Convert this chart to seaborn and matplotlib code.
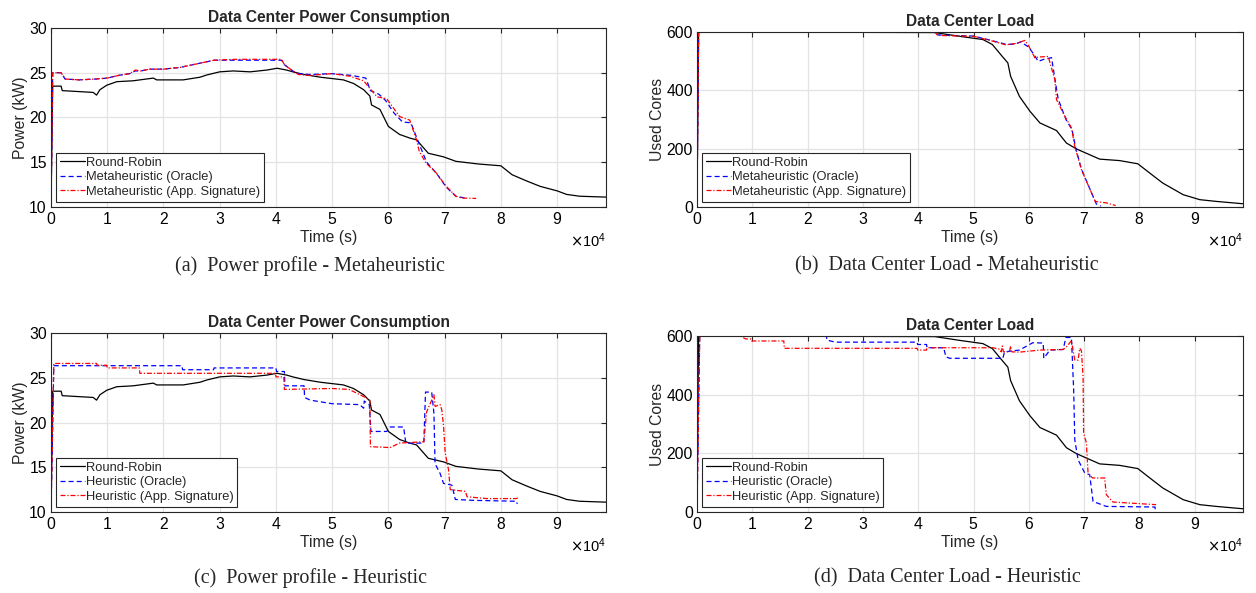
import numpy as np
import pandas as pd
import matplotlib.pyplot as plt
import seaborn as sns

# ---------------- data (time in s) ----------------

# round-robin baseline, power (kW)
rr_pow_t = [0, 300, 1800, 2000, 7500, 8100, 8700, 9900, 11700, 14600, 18200, 18800,
            23500, 26500, 27700, 30000, 32400, 35400, 38400, 40200, 41900, 43000,
            45000, 47900, 52000, 53800, 55600, 56700, 57000, 58500, 60000, 62000,
            63800, 65000, 67100, 69800, 72000, 76000, 80000, 82000, 84600, 87000,
            90000, 91700, 94000, 98700]
rr_pow = [10, 23.5, 23.5, 23.0, 22.8, 22.5, 23.1, 23.6, 24.0, 24.1, 24.4, 24.2,
          24.2, 24.5, 24.75, 25.1, 25.2, 25.1, 25.3, 25.5, 25.3, 25.1,
          24.8, 24.5, 24.2, 23.8, 23.1, 22.4, 21.4, 20.9, 19.0, 18.1,
          17.7, 17.5, 16.0, 15.6, 15.1, 14.8, 14.6, 13.6, 12.9, 12.3,
          11.8, 11.4, 11.2, 11.1]

# round-robin baseline, used cores
rr_load_t = [0, 300, 43000, 47500, 51700, 53400, 55200, 56200, 56700, 58300, 60200,
             62000, 65000, 66800, 68600, 71000, 72800, 76400, 79700, 81800, 84200,
             87900, 90900, 93900, 98700]
rr_load = [0, 600, 598, 585, 574, 557, 516, 494, 448, 379, 328,
           288, 262, 219, 199, 179, 164, 159, 148, 117, 82,
           42, 25, 19, 11]

# metaheuristic, power
meta_or_pow_t = [0, 300, 1800, 2500, 5000, 8000, 10000, 12000, 14000, 15000, 16000,
                 17500, 20000, 23000, 26000, 29000, 33000, 41000, 41500, 43000, 44000,
                 46000, 50000, 53500, 56000, 56800, 58300, 59500, 61000, 62500, 64000,
                 65500, 66800, 68500, 70300, 72000, 74000]
meta_or_pow = [10, 25.0, 25.0, 24.3, 24.2, 24.3, 24.4, 24.7, 24.9, 25.2, 25.2,
               25.4, 25.4, 25.6, 26.0, 26.4, 26.4, 26.4, 25.9, 25.2, 24.9,
               24.8, 24.9, 24.7, 24.4, 23.0, 22.6, 21.9, 20.5, 19.5, 19.4,
               17.0, 15.0, 13.8, 12.2, 11.2, 10.95]
meta_app_pow_t = [0, 300, 1800, 2500, 5000, 8000, 10000, 12000, 14000, 15000, 16000,
                  17500, 20000, 23000, 26000, 29000, 33000, 41000, 41500, 43000, 44000,
                  46000, 50000, 53200, 55600, 56500, 58000, 59700, 60500, 62000, 63800,
                  65000, 65500, 66700, 68500, 70300, 72000, 73000, 75600]
meta_app_pow = [10, 25.0, 25.0, 24.3, 24.2, 24.3, 24.4, 24.7, 24.9, 25.3, 25.2,
                25.4, 25.4, 25.6, 26.0, 26.4, 26.5, 26.5, 25.9, 25.2, 24.8,
                24.7, 24.9, 24.6, 24.1, 23.4, 22.3, 22.1, 21.4, 20.1, 19.7,
                17.5, 16.2, 14.9, 13.8, 12.3, 11.2, 11.0, 10.95]

# metaheuristic, used cores
meta_or_load_t = [0, 300, 43000, 43500, 46000, 50000, 53000, 55800, 57500, 58500,
                  60000, 61000, 61700, 62500, 64100, 64700, 65300, 66700, 67800,
                  68500, 69500, 72200, 73000]
meta_or_load = [0, 600, 600, 590, 588, 586, 572, 558, 558, 566,
                548, 520, 499, 505, 512, 440, 370, 300, 265,
                200, 130, 10, 3]
meta_app_load_t = [0, 300, 43000, 43500, 46000, 50000, 53000, 55800, 57500, 58200,
                   59300, 60000, 61100, 61700, 63500, 64700, 65000, 66500, 67700,
                   68300, 69500, 72000, 74000, 75700]
meta_app_load = [0, 600, 600, 588, 587, 585, 571, 556, 560, 564,
                 571, 551, 511, 514, 516, 436, 368, 311, 271,
                 208, 128, 19, 14, 5]

# heuristic, power
heur_or_pow_t = [0, 500, 23300, 23400, 28900, 29000, 40000, 40100, 41500, 41600,
                 45000, 45100, 46100, 50000, 54900, 55600, 55700, 56600, 56900, 59700,
                 60300, 62700, 63100, 66300, 66600, 67700, 68100, 68300, 69200, 69800,
                 71300, 71900, 75200, 82800, 82900]
heur_or_pow = [10, 26.35, 26.35, 25.9, 25.9, 26.1, 26.1, 25.7, 25.7, 24.1,
               24.1, 22.8, 22.5, 22.1, 22.0, 21.6, 22.4, 22.0, 19.0, 19.0,
               19.5, 19.5, 17.7, 17.7, 23.4, 23.4, 21.0, 15.4, 14.3, 13.2,
               13.0, 11.4, 11.3, 11.2, 10.9]
heur_app_pow_t = [0, 500, 8100, 8200, 9900, 10000, 15700, 15800, 39900, 40000,
                  41400, 41500, 50000, 53000, 55600, 56700, 56800, 60300, 62000, 66300,
                  66800, 67700, 68100, 68300, 69200, 69500, 69800, 70100, 70700, 71000,
                  73700, 74000, 77500, 82800, 83000]
heur_app_pow = [10, 26.6, 26.6, 26.4, 26.4, 26.1, 26.1, 25.5, 25.5, 25.1,
                25.1, 23.7, 23.8, 23.7, 22.9, 22.5, 17.3, 17.2, 17.7, 17.85,
                21.2, 22.5, 23.1, 21.8, 22.0, 21.4, 19.7, 16.6, 14.7, 12.5,
                12.3, 11.7, 11.5, 11.5, 11.6]

# heuristic, used cores
heur_or_load_t = [0, 500, 23400, 23500, 25000, 39800, 39900, 41500, 41600, 44600,
                  45000, 45700, 55300, 55600, 58300, 60700, 62600, 62700, 63800, 66200,
                  66700, 67700, 68100, 68300, 68900, 70100, 71000, 71600, 74000, 82800,
                  82900]
heur_or_load = [0, 600, 600, 586, 579, 579, 571, 571, 560, 560,
                529, 524, 524, 546, 552, 577, 576, 524, 552, 554,
                595, 595, 416, 246, 178, 133, 127, 36, 19, 17,
                0]
heur_app_load_t = [0, 500, 7800, 8800, 9800, 9900, 15700, 15800, 39800, 39900,
                   41500, 41600, 53500, 54700, 55000, 55200, 55400, 56500, 56700, 56900,
                   58300, 62000, 66200, 66800, 67700, 68300, 68900, 69200, 69500, 69800,
                   69900, 70400, 70700, 71500, 73700, 74000, 75200, 83000]
heur_app_load = [0, 600, 600, 590, 590, 583, 583, 558, 558, 552,
                 552, 560, 560, 555, 546, 566, 546, 546, 566, 546,
                 545, 552, 554, 563, 584, 518, 518, 558, 550, 461,
                 269, 235, 133, 116, 116, 59, 34, 25]

# ---------------- style ----------------
sns.set_theme(style="white")
plt.rcParams['font.family'] = ['Liberation Sans', 'DejaVu Sans']
plt.rcParams['axes.edgecolor'] = '#262626'
plt.rcParams['axes.linewidth'] = 0.8

line_styles = {
    'rr': dict(color='black', linestyle='-'),
    'or': dict(color='#0000ff', linestyle=(0, (4, 2.5))),
    'app': dict(color='#ff0000', linestyle=(0, (4, 1.5, 1, 1.5))),
}

fig = plt.figure(figsize=(12.56, 5.93), dpi=100)

panels = [
    dict(rect=[0.0406, 0.651, 0.4419, 0.3018], title='Data Center Power Consumption',
         ylabel='Power (kW)', ylim=(10, 30), yticks=[10, 15, 20, 25, 30], name='Metaheuristic',
         series=[(rr_pow_t, rr_pow, 'rr'), (meta_or_pow_t, meta_or_pow, 'or'),
                 (meta_app_pow_t, meta_app_pow, 'app')]),
    dict(rect=[0.5549, 0.651, 0.4347, 0.2951], title='Data Center Load',
         ylabel='Used Cores', ylim=(0, 600), yticks=[0, 200, 400, 600], name='Metaheuristic',
         series=[(rr_load_t, rr_load, 'rr'), (meta_or_load_t, meta_or_load, 'or'),
                 (meta_app_load_t, meta_app_load, 'app')]),
    dict(rect=[0.0406, 0.1366, 0.4419, 0.3018], title='Data Center Power Consumption',
         ylabel='Power (kW)', ylim=(10, 30), yticks=[10, 15, 20, 25, 30], name='Heuristic',
         series=[(rr_pow_t, rr_pow, 'rr'), (heur_or_pow_t, heur_or_pow, 'or'),
                 (heur_app_pow_t, heur_app_pow, 'app')]),
    dict(rect=[0.5549, 0.1366, 0.4347, 0.2968], title='Data Center Load',
         ylabel='Used Cores', ylim=(0, 600), yticks=[0, 200, 400, 600], name='Heuristic',
         series=[(rr_load_t, rr_load, 'rr'), (heur_or_load_t, heur_or_load, 'or'),
                 (heur_app_load_t, heur_app_load, 'app')]),
]

for p in panels:
    ax = fig.add_axes(p['rect'])
    labels = {'rr': 'Round-Robin', 'or': p['name'] + ' (Oracle)',
              'app': p['name'] + ' (App. Signature)'}
    for t, v, key in p['series']:
        df = pd.DataFrame({'time': t, 'value': v})
        sns.lineplot(data=df, x='time', y='value', ax=ax, estimator=None, sort=False,
                     linewidth=0.9, label=labels[key], **line_styles[key])
    ax.set_xlim(0, 98700)
    ax.set_ylim(*p['ylim'])
    ax.set_xticks(np.arange(0, 100000, 10000))
    ax.set_yticks(p['yticks'])
    ax.ticklabel_format(axis='x', style='sci', scilimits=(0, 0), useMathText=True)
    ax.xaxis.get_offset_text().set_fontsize(10.5)
    ax.grid(True, color='#e3e3e3', linewidth=0.9)
    ax.tick_params(direction='in', top=True, right=True, length=3.5, width=0.8,
                   labelsize=11.3, pad=3, colors='#262626', labelcolor='black')
    ax.set_xlabel('Time (s)', fontsize=11.3, labelpad=2)
    ax.set_ylabel(p['ylabel'], fontsize=11.3, labelpad=1)
    ax.set_title(p['title'], fontsize=11.2, fontweight='bold', pad=4)
    leg = ax.legend(loc='lower left', fontsize=9.3, handlelength=1.9, handletextpad=0.1,
                    labelspacing=0.2, borderpad=0.3, borderaxespad=0.4,
                    frameon=True, fancybox=False, framealpha=1)
    leg.get_frame().set_edgecolor('#262626')
    leg.get_frame().set_linewidth(0.8)

captions = [
    (0.247, 0.552, '(a)  Power profile - Metaheuristic'),
    (0.754, 0.552, '(b)  Data Center Load - Metaheuristic'),
    (0.247, 0.025, '(c)  Power profile - Heuristic'),
    (0.754, 0.025, '(d)  Data Center Load - Heuristic'),
]
for x, y, s in captions:
    fig.text(x, y, s, ha='center', va='center', fontsize=14.5, family='Liberation Serif')

fig.savefig('out.png', dpi=100)
